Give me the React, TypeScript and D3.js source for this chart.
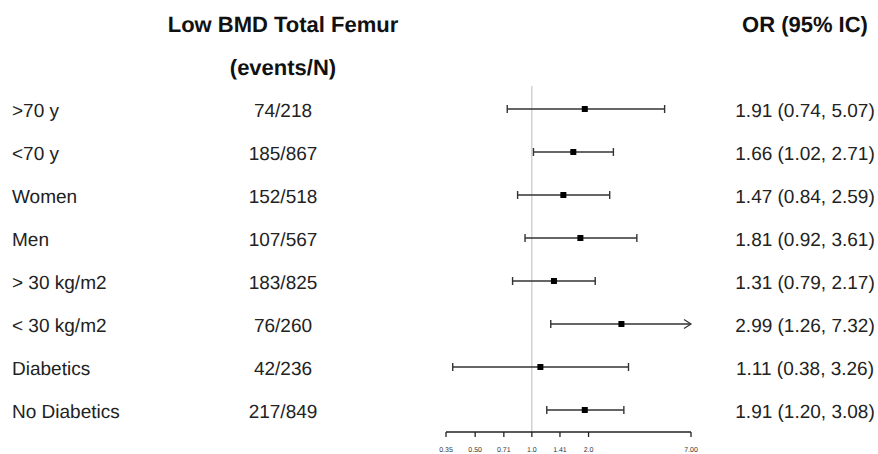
import * as d3 from 'd3'

const labels = ['>70 y', '<70 y', 'Women', 'Men', '> 30 kg/m2', '< 30 kg/m2', 'Diabetics', 'No Diabetics']
const events = ['74/218', '185/867', '152/518', '107/567', '183/825', '76/260', '42/236', '217/849']
const oddsRatio = [1.91, 1.66, 1.47, 1.81, 1.31, 2.99, 1.11, 1.91]
const lower = [0.74, 1.02, 0.84, 0.92, 0.79, 1.26, 0.38, 1.2]
const upper = [5.07, 2.71, 2.59, 3.61, 2.17, 7.32, 3.26, 3.08]
const tickValues = [0.35, 0.5, 0.71, 1.0, 1.41, 2.0, 7.0]
const tickLabels = ['0.35', '0.50', '0.71', '1.0', '1.41', '2.0', '7.00']

const width = 878
const height = 454
const font = 'Arial, "Liberation Sans", sans-serif'

export default function App() {
  const x = d3.scaleLog().domain([0.35, 7]).range([446, 691])
  const y = d3.scaleLinear().domain([0, labels.length - 1]).range([109, 410])
  const axisY = 432
  const maxX = x(7)
  const fmt = d3.format('.2f')

  return (
    <svg
      width={width}
      height={height}
      style={{ position: 'absolute', left: 0, top: 0, background: '#fff' }}
      fontFamily={font}
      textRendering="geometricPrecision"
    >
      {/* headers */}
      <text x={283} y={32} fontSize={22} fontWeight="bold" textAnchor="middle" fill="#111">
        Low BMD Total Femur
      </text>
      <text x={283} y={75} fontSize={22} fontWeight="bold" textAnchor="middle" fill="#111">
        (events/N)
      </text>
      <text x={805} y={32} fontSize={22} fontWeight="bold" textAnchor="middle" fill="#111">
        OR (95% IC)
      </text>

      {/* reference line */}
      <line x1={x(1)} x2={x(1)} y1={86} y2={axisY} stroke="#bbb" strokeWidth={1} />

      {labels.map((lab, i) => {
        const cy = y(i)
        const hi = upper[i]
        const clipped = hi > 7
        const x2 = clipped ? maxX : x(hi)
        return (
          <g key={lab}>
            <text x={12} y={cy + 8} fontSize={19} fill="#222">
              {lab}
            </text>
            <text x={283} y={cy + 8} fontSize={19} fill="#222" textAnchor="middle">
              {events[i]}
            </text>
            <text x={805} y={cy + 8} fontSize={19} fill="#222" textAnchor="middle">
              {`${fmt(oddsRatio[i])} (${fmt(lower[i])}, ${fmt(hi)})`}
            </text>
            <line x1={x(lower[i])} x2={x2} y1={cy} y2={cy} stroke="#333" strokeWidth={1.4} />
            <line x1={x(lower[i])} x2={x(lower[i])} y1={cy - 4} y2={cy + 4} stroke="#333" strokeWidth={1.4} />
            {clipped ? (
              <path
                d={`M${x2 - 7},${cy - 4.5}L${x2},${cy}L${x2 - 7},${cy + 4.5}`}
                fill="none"
                stroke="#333"
                strokeWidth={1.2}
              />
            ) : (
              <line x1={x2} x2={x2} y1={cy - 4} y2={cy + 4} stroke="#333" strokeWidth={1.4} />
            )}
            <rect x={x(oddsRatio[i]) - 3} y={cy - 3} width={6} height={6} fill="#000" />
          </g>
        )
      })}

      {/* axis */}
      <line x1={x(0.35)} x2={x(7)} y1={axisY} y2={axisY} stroke="#222" strokeWidth={1.3} />
      {tickValues.map((t, i) => (
        <g key={t}>
          <line x1={x(t)} x2={x(t)} y1={axisY} y2={axisY + 5} stroke="#222" strokeWidth={1.3} />
          <text x={x(t)} y={452} fontSize={7} textAnchor="middle" fill="#333">
            {tickLabels[i]}
          </text>
        </g>
      ))}
    </svg>
  )
}
